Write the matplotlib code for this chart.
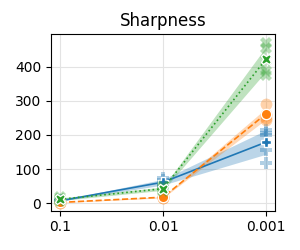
import numpy as np
import matplotlib.pyplot as plt

lr_labels = ["0.1", "0.01", "0.001"]

# per-seed sharpness values, one row per learning rate
blue_vals = [[9, 8, 7, 8, 6],
             [75, 68, 60, 55, 52],
             [214, 205, 200, 156, 119]]
orange_vals = [[3, 2, 4, 3, 2],
               [15, 17, 18, 19, 21],
               [292, 262, 258, 250, 245]]
green_vals = [[18, 14, 12, 9, 7],
              [50, 46, 43, 40, 36],
              [469, 455, 420, 387, 375]]

series = [
    (blue_vals, "tab:blue", "-", "P"),
    (orange_vals, "tab:orange", "--", "o"),
    (green_vals, "tab:green", ":", "X"),
]

fig = plt.figure(figsize=(3, 2.5), dpi=100)
ax = fig.add_axes([0.17, 0.157, 0.747, 0.706])
x = np.arange(len(lr_labels))

for vals, color, ls, mk in series:
    v = np.array(vals, dtype=float)
    mean = v.mean(axis=1)
    se = v.std(axis=1, ddof=1) / np.sqrt(v.shape[1])
    ax.fill_between(x, mean - 1.96 * se, mean + 1.96 * se, color=color,
                    alpha=0.3, linewidth=0)
    ax.plot(x, mean, color=color, linestyle=ls, linewidth=1.2)
    for i in range(len(x)):
        ax.plot(np.full(v.shape[1], x[i]), v[i], linestyle="none", marker=mk,
                markersize=8.5, color=color, alpha=0.35, markeredgewidth=0)
    ax.plot(x, mean, linestyle="none", marker=mk, markersize=7.5,
            color=color, markeredgecolor="white", markeredgewidth=1)

ax.set_xticks(x)
ax.set_xticklabels(lr_labels, fontsize=10)
ax.set_yticks([0, 100, 200, 300, 400])
ax.tick_params(axis="y", labelsize=10)
ax.set_xlim(-0.09, 2.09)
ax.set_ylim(-21.6, 494.6)
ax.grid(True, color="#e3e3e3", linewidth=0.8)
ax.set_axisbelow(True)
ax.set_title("Sharpness", fontsize=12)

fig.savefig("out.png", dpi=100)
